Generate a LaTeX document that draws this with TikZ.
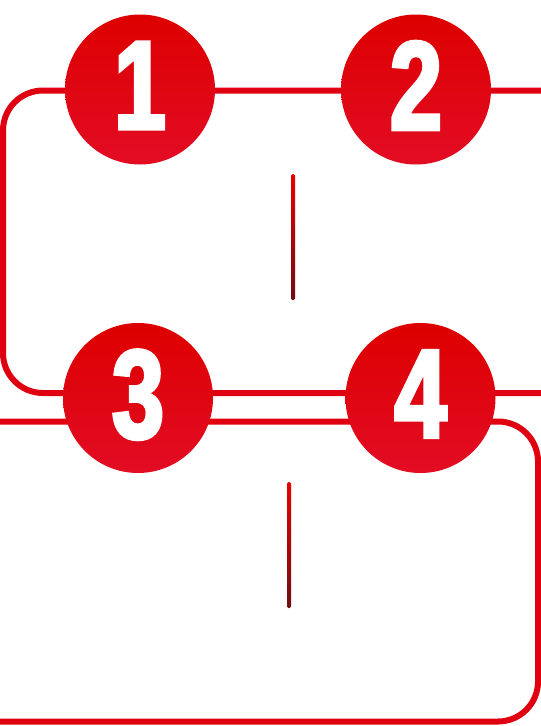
\documentclass[tikz,border=0pt]{standalone}
\usepackage{fontspec}
\setmainfont{Liberation Sans}
\newfontfamily\digitfont[FakeStretch=0.74,FakeBold=3]{Liberation Sans Bold}
\usepackage{xcolor}
\usepackage{tikz}
\usetikzlibrary{positioning}

\definecolor{trackred}{RGB}{223,0,16}
\definecolor{disctop}{RGB}{221,0,0}
\definecolor{discbottom}{RGB}{226,12,36}
\definecolor{dividertop}{RGB}{232,0,0}
\definecolor{dividerbottom}{RGB}{110,14,18}

\tikzset{
    track/.style={line width=6pt, color=trackred, rounded corners=40pt},
    numdisc/.style={circle, minimum size=150pt, inner sep=0pt, top color=disctop,
        bottom color=discbottom, text=white, text depth=8pt,
        font=\digitfont\fontsize{126}{126}\selectfont},
    divider/.style={top color=dividertop, bottom color=dividerbottom, rounded corners=1.5pt}
}

\begin{document}
\begin{tikzpicture}[x=1pt,y=-1pt]
    \useasboundingbox (0,0) rectangle (541,726);

    \coordinate (TR) at (541,90.5);
    \coordinate (TL) at (3,90.5);
    \coordinate (ML) at (3,393);
    \coordinate (MR) at (541,393);
    \coordinate (LL) at (0,421.5);
    \coordinate (LR) at (538,421.5);
    \coordinate (BR) at (538,721.5);
    \coordinate (BL) at (0,721.5);

    \draw[track] (TR) -- (TL) -- (ML) -- (MR);
    \draw[track] (LL) -- (LR) -- (BR) -- (BL);

    \node[numdisc] (n1) at (140,89.5) {1};
    \node[numdisc] (n2) at (416,89.5) {2};
    \node[numdisc] (n3) at (138,398) {3};
    \node[numdisc] (n4) at (420.5,398) {4};

    \shade[divider] (291,174) rectangle (295,300);
    \shade[divider] (287,482) rectangle (291,608);
\end{tikzpicture}
\end{document}
